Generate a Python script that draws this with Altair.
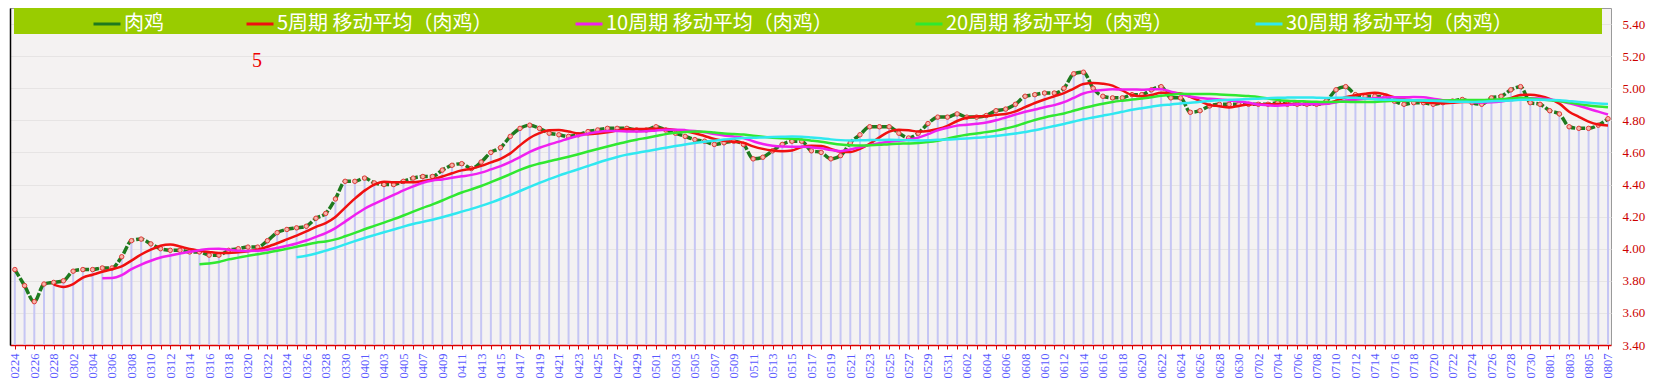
import json
import altair as alt
import pandas as pd

FEB = ["0224", "0225", "0226", "0227", "0228"]
MAR = ["0301", "0302", "0303", "0304", "0305", "0306", "0307", "0308", "0309", "0310",
       "0311", "0312", "0313", "0314", "0315", "0316", "0317", "0318", "0319", "0320",
       "0321", "0322", "0323", "0324", "0325", "0326", "0327", "0328", "0329", "0330", "0331"]
APR = ["0401", "0402", "0403", "0404", "0405", "0406", "0407", "0408", "0409", "0410",
       "0411", "0412", "0413", "0414", "0415", "0416", "0417", "0418", "0419", "0420",
       "0421", "0422", "0423", "0424", "0425", "0426", "0427", "0428", "0429", "0430"]
MAY = ["0501", "0502", "0503", "0504", "0505", "0506", "0507", "0508", "0509", "0510",
       "0511", "0512", "0513", "0514", "0515", "0516", "0517", "0518", "0519", "0520",
       "0521", "0522", "0523", "0524", "0525", "0526", "0527", "0528", "0529", "0530", "0531"]
JUN = ["0601", "0602", "0603", "0604", "0605", "0606", "0607", "0608", "0609", "0610",
       "0611", "0612", "0613", "0614", "0615", "0616", "0617", "0618", "0619", "0620",
       "0621", "0622", "0623", "0624", "0625", "0626", "0627", "0628", "0629", "0630"]
JUL = ["0701", "0702", "0703", "0704", "0705", "0706", "0707", "0708", "0709", "0710",
       "0711", "0712", "0713", "0714", "0715", "0716", "0717", "0718", "0719", "0720",
       "0721", "0722", "0723", "0724", "0725", "0726", "0727", "0728", "0729", "0730", "0731"]
AUG = ["0801", "0802", "0803", "0804", "0805", "0806", "0807"]

P_FEB = [3.87, 3.77, 3.67, 3.78, 3.79]
P_MAR = [3.80, 3.86, 3.87, 3.87, 3.88, 3.88, 3.95, 4.05, 4.06, 4.03,
         4.00, 3.99, 3.99, 3.98, 3.98, 3.96, 3.96, 3.99, 4.00, 4.01,
         4.01, 4.05, 4.10, 4.12, 4.13, 4.14, 4.19, 4.22, 4.31, 4.42, 4.42]
P_APR = [4.44, 4.41, 4.40, 4.40, 4.42, 4.44, 4.45, 4.45, 4.49, 4.52,
         4.53, 4.50, 4.54, 4.60, 4.63, 4.70, 4.75, 4.77, 4.75, 4.72,
         4.71, 4.70, 4.71, 4.73, 4.74, 4.75, 4.75, 4.75, 4.74, 4.74]
P_MAY = [4.76, 4.74, 4.72, 4.70, 4.68, 4.67, 4.65, 4.66, 4.67, 4.65,
         4.56, 4.57, 4.61, 4.65, 4.67, 4.67, 4.61, 4.60, 4.56, 4.58,
         4.66, 4.71, 4.76, 4.76, 4.76, 4.72, 4.69, 4.72, 4.78, 4.82, 4.82]
P_JUN = [4.84, 4.82, 4.82, 4.83, 4.86, 4.87, 4.90, 4.95, 4.96, 4.97,
         4.97, 5.00, 5.09, 5.10, 5.00, 4.95, 4.94, 4.94, 4.96, 4.96,
         4.99, 5.01, 4.94, 4.94, 4.85, 4.86, 4.89, 4.90, 4.90, 4.90]
P_JUL = [4.90, 4.90, 4.90, 4.91, 4.90, 4.90, 4.90, 4.90, 4.92, 4.99,
         5.01, 4.96, 4.95, 4.95, 4.94, 4.92, 4.90, 4.91, 4.91, 4.90,
         4.91, 4.92, 4.93, 4.91, 4.90, 4.94, 4.95, 4.99, 5.01, 4.91, 4.90]
P_AUG = [4.86, 4.84, 4.76, 4.75, 4.75, 4.77, 4.81]

DATES = FEB + MAR + APR + MAY + JUN + JUL + AUG
PRICES = P_FEB + P_MAR + P_APR + P_MAY + P_JUN + P_JUL + P_AUG

SERIES = ["肉鸡", "5周期 移动平均（肉鸡）", "10周期 移动平均（肉鸡）",
          "20周期 移动平均（肉鸡）", "30周期 移动平均（肉鸡）"]
PERIODS = [5, 10, 20, 30]
COLORS = ["#1e7a1e", "#f01010", "#f020f0", "#30e830", "#30e8f0"]
Y_TICKS = [3.4, 3.6, 3.8, 4.0, 4.2, 4.4, 4.6, 4.8, 5.0, 5.2, 5.4]

df = pd.DataFrame({"idx": list(range(len(DATES))), "date": DATES, "value": PRICES})

W, H = 1601, 337

xscale = alt.Scale(domain=[-0.5, len(DATES) - 1 + 0.31], nice=False, zero=False)
yscale = alt.Scale(domain=[3.4, 5.5], nice=False, zero=False)
cscale = alt.Scale(domain=SERIES, range=COLORS)

label_expr = "datum.value % 2 == 0 ? " + json.dumps(DATES) + "[datum.value] : ''"
x_axis = alt.Axis(values=list(range(len(DATES))), labelExpr=label_expr, labelAngle=270,
                  labelColor="#5a5aff", labelFont="Liberation Serif", labelFontSize=12.5,
                  labelOverlap=False, labelPadding=4, tickColor="#dd0000", tickSize=4,
                  tickWidth=1, domainColor="#dd0000", domainWidth=1.5, grid=False, title=None)
X = alt.X("idx:Q", scale=xscale, axis=x_axis)

right_axis = alt.Axis(orient="right", values=Y_TICKS, format=".2f", labelColor="#cc0000",
                      labelFont="Liberation Serif", labelFontSize=13, ticks=False, domain=False,
                      grid=True, gridColor="#e6e4e4", gridWidth=1, labelPadding=11, title=None)
left_axis = alt.Axis(orient="left", labels=False, ticks=False, grid=False, domain=True,
                     domainColor="#000000", domainWidth=1.5, title=None)

base = alt.Chart(df)

band = alt.Chart(pd.DataFrame({"b": [1]})).mark_rect(color="#99cc00").encode(
    x=alt.value(4), x2=alt.value(1592), y=alt.value(0), y2=alt.value(26))

bars = base.mark_rule(color="#c6c6f4", strokeWidth=2).encode(
    x=X, y=alt.Y("value:Q", scale=yscale, axis=left_axis), y2=alt.datum(3.4))

legend = alt.Legend(orient="none", legendX=82, legendY=1, direction="horizontal", title=None,
                    labelColor="white", labelFont="Noto Sans CJK SC", labelFontSize=20,
                    symbolType="stroke", symbolStrokeWidth=3, symbolSize=729,
                    columnPadding=76, labelOffset=2, labelLimit=500, padding=0, zindex=1)

main = base.mark_line(strokeWidth=3.5, strokeDash=[8, 2], interpolate="monotone").transform_calculate(
    series="'" + SERIES[0] + "'").encode(
    x=X, y=alt.Y("value:Q", scale=yscale, axis=right_axis),
    color=alt.Color("series:N", scale=cscale, legend=legend))

pts = base.mark_point(filled=True, shape="circle", size=20, fill="#f8b4aa", stroke="#e03a3a",
                      strokeWidth=1, opacity=1).encode(
    x=X, y=alt.Y("value:Q", scale=yscale, axis=None))

ma_layers = []
for name, n in zip(SERIES[1:], PERIODS):
    layer = base.transform_window(
        ma="mean(value)", cnt="count()", frame=[-(n - 1), 0], sort=[alt.SortField("idx")]
    ).transform_filter(f"datum.cnt == {n}").transform_calculate(
        series="'" + name + "'"
    ).mark_line(strokeWidth=2.5, interpolate="monotone").encode(
        x=X, y=alt.Y("ma:Q", scale=yscale, axis=None),
        color=alt.Color("series:N", scale=cscale, legend=legend))
    ma_layers.append(layer)

note = alt.Chart(pd.DataFrame({"t": ["5"]})).mark_text(
    color="#ee0000", font="Liberation Serif", fontSize=20).encode(
    text="t:N", x=alt.value(247), y=alt.value(53))

chart = alt.layer(band, bars, main, pts, *ma_layers, note).resolve_axis(
    y="independent").properties(
    width=W, height=H,
    autosize=alt.AutoSizeParams(type="none"),
    padding={"left": 2, "top": 0, "right": 40, "bottom": 36},
    background="white",
).configure_view(fill="#f4f2f2", stroke="#9a9a9a", strokeWidth=1)

chart.save("out.html", embed_options={"renderer": "svg", "actions": False})
